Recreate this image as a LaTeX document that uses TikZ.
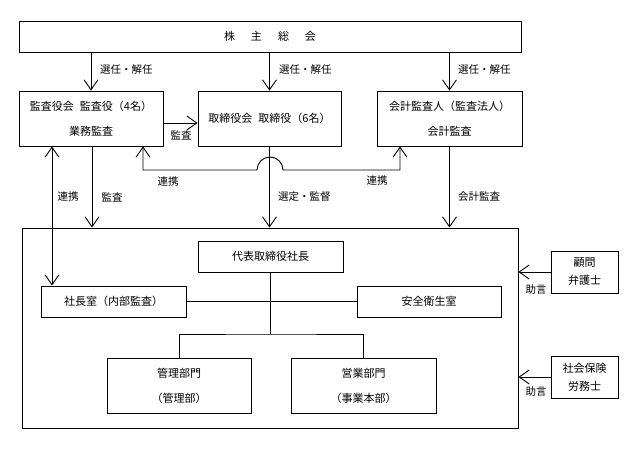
\documentclass[tikz,border=0pt]{standalone}
\usepackage{fontspec}
\setmainfont{Noto Sans CJK JP}
\usetikzlibrary{arrows.meta}
\begin{document}
\begin{tikzpicture}[x=1pt,y=1pt,
  box/.style={draw,line width=0.9pt,inner sep=0pt,font=\fontsize{11}{25}\selectfont,align=center},
  sbox/.style={box,font=\fontsize{11}{18}\selectfont},
  lbl/.style={inner sep=0pt,font=\fontsize{10.5}{12}\selectfont},
  arr/.style={line width=0.9pt,-{Straight Barb[length=10pt,width=14pt]}},
  darr/.style={line width=0.9pt,{Straight Barb[length=10pt,width=14pt]}-{Straight Barb[length=10pt,width=14pt]}},
  ln/.style={line width=0.9pt}]
\useasboundingbox (0,0) rectangle (637,448);
% boxes
\node[box,minimum width=502pt,minimum height=31pt] (top) at (270,411.5) {株\hspace{16pt}主\hspace{16pt}総\hspace{16pt}会};
\node[box,minimum width=144pt,minimum height=55pt] (kansa) at (91,329.5) {監査役会\hspace{6pt}監査役（4名）\\業務監査};
\node[box,minimum width=143pt,minimum height=55pt] (tori) at (269.5,329.5) {取締役会\hspace{6pt}取締役（6名）};
\node[box,minimum width=145pt,minimum height=55pt] (kaikei) at (449.5,329.5) {会計監査人（監査法人）\\会計監査};
\node[box,minimum width=496pt,minimum height=200pt] (big) at (270,120) {};
\node[box,minimum width=145pt,minimum height=31pt] (daihyo) at (270.5,191.5) {代表取締役社長};
\node[box,minimum width=145pt,minimum height=31pt] (shacho) at (113.5,146.5) {社長室（内部監査）};
\node[box,minimum width=144pt,minimum height=31pt] (anzen) at (429,146.5) {安全衛生室};
\node[box,minimum width=144pt,minimum height=55pt] (kanri) at (179,62.5) {管理部門\\（管理部）};
\node[box,minimum width=145pt,minimum height=55pt] (eigyo) at (363.5,62.5) {営業部門\\（事業本部）};
\node[sbox,minimum width=67pt,minimum height=42pt] (komon) at (584.5,176) {顧問\\弁護士};
\node[sbox,minimum width=67pt,minimum height=42pt] (sharo) at (584.5,71) {社会保険\\労務士};
% coordinates
\coordinate (xA) at (92,0);
\coordinate (xB) at (52,0);
\coordinate (rL) at (143,278);
\coordinate (jL) at (257,278);
\coordinate (rR) at (400,278);
\coordinate (br) at (270,114);
% top arrows
\draw[arr] (top.south -| kansa.north) -- (kansa.north);
\draw[arr] (top.south -| tori.north) -- (tori.north);
\draw[arr] (top.south -| kaikei.north) -- (kaikei.north);
\node[lbl,anchor=west] (l1) at (100,378) {選任・解任};
\node[lbl,anchor=west] (l2) at (279,378) {選任・解任};
\node[lbl,anchor=west] (l3) at (458,378) {選任・解任};
% 監査 horizontal
\draw[arr] (kansa.east |- 0,325) -- (tori.west |- 0,325);
\node[lbl] (l4) at (181,313) {監査};
% 連携 middle with jump
\draw[darr] (kansa.south -| rL) -- (rL) -- (jL) arc[start angle=180,end angle=0,radius=13pt] -- (rR) -- (kaikei.south -| rR);
\node[lbl] (l5) at (168,266) {連携};
\node[lbl] (l6) at (377,267) {連携};
% vertical arrows to big box
\draw[darr] (shacho.north -| xB) -- (kansa.south -| xB);
\draw[arr] (kansa.south -| xA) -- (big.north -| xA);
\draw[arr] (tori.south) -- (big.north -| tori.south);
\draw[arr] (kaikei.south) -- (big.north -| kaikei.south);
\node[lbl] (l7) at (68,251) {連携};
\node[lbl] (l8) at (112,251) {監査};
\node[lbl,anchor=west] (l9) at (278,251) {選定・監督};
\node[lbl] (l10) at (479,251) {会計監査};
% inner lines
\draw[ln] (daihyo.south) -- (daihyo.south |- br);
\draw[ln] (shacho.east) -- (anzen.west);
\draw[ln] (kanri.north) |- (br) -| (eigyo.north);
% advice arrows
\draw[arr] (komon.west) -- (big.east |- komon.west);
\draw[arr] (sharo.west) -- (big.east |- sharo.west);
\node[lbl] (l11) at (536,158) {助言};
\node[lbl] (l12) at (536,56) {助言};
\end{tikzpicture}
\end{document}
